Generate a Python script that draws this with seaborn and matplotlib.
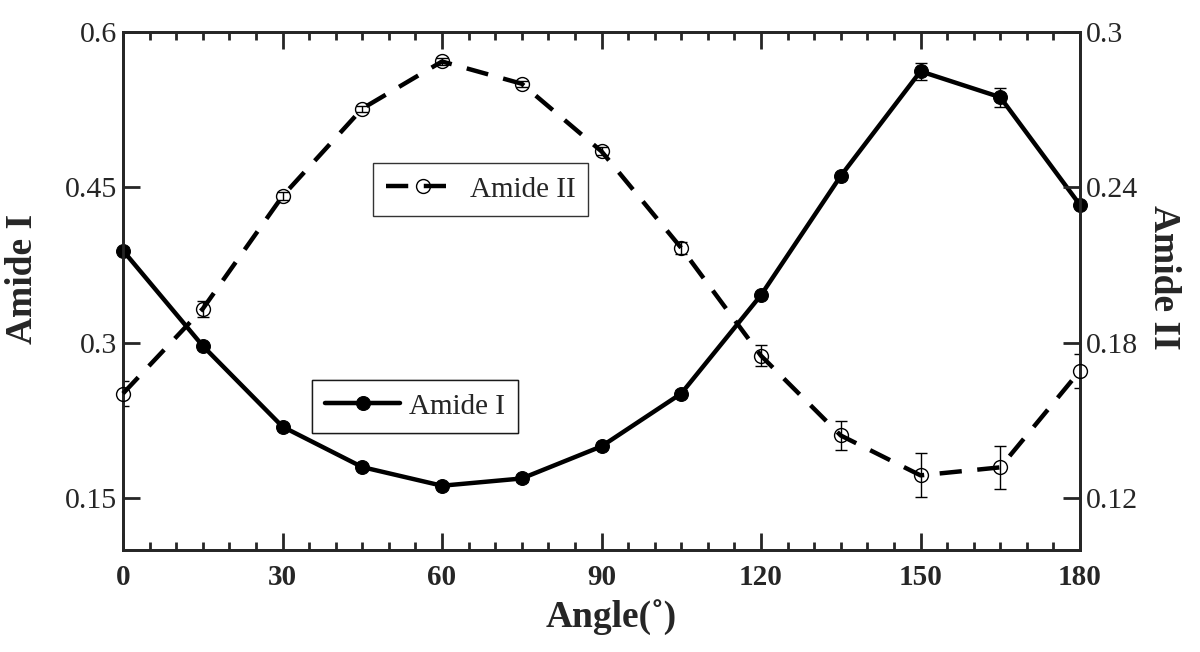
import numpy as np
import pandas as pd
import seaborn as sns
import matplotlib.pyplot as plt
from matplotlib.ticker import MultipleLocator

sns.set_style("ticks")
plt.rcParams['font.family'] = ['Liberation Serif', 'DejaVu Serif']

# data
angle = [0, 15, 30, 45, 60, 75, 90, 105, 120, 135, 150, 165, 180]
amide1 = [0.389, 0.297, 0.219, 0.180, 0.162, 0.169, 0.200, 0.251, 0.346, 0.461, 0.562, 0.537, 0.433]
amide1_err = [0.003, 0.003, 0.003, 0.003, 0.003, 0.003, 0.003, 0.003, 0.003, 0.003, 0.008, 0.009, 0.003]
amide2 = [0.1604, 0.1931, 0.2366, 0.2704, 0.2886, 0.2800, 0.2539, 0.2166, 0.1750, 0.1442, 0.1288, 0.1319, 0.1692]
amide2_err = [0.0048, 0.0030, 0.0015, 0.0012, 0.0012, 0.0012, 0.0015, 0.0022, 0.0040, 0.0055, 0.0085, 0.0083, 0.0065]

df = pd.DataFrame({"angle": angle, "amide1": amide1, "amide2": amide2})

fig = plt.figure(figsize=(12, 6.52), dpi=100)
ax = fig.add_axes([0.1025, 0.1565, 0.7975, 0.7945])
ax2 = ax.twinx()

# Amide I (left axis)
ax.errorbar(angle, amide1, yerr=amide1_err, fmt='none', ecolor='black', elinewidth=1, capsize=4, zorder=2)
sns.lineplot(data=df, x="angle", y="amide1", ax=ax, color='black', linewidth=3.2,
             marker='o', markersize=10, markeredgecolor='black', markerfacecolor='black',
             label="Amide I", zorder=3, clip_on=False)

# Amide II (right axis)
ax2.errorbar(angle, amide2, yerr=amide2_err, fmt='none', ecolor='black', elinewidth=1, capsize=4, zorder=2)
sns.lineplot(data=df, x="angle", y="amide2", ax=ax2, color='black', linewidth=3.2,
             marker='o', markersize=10, markerfacecolor='none', markeredgecolor='black',
             markeredgewidth=1, label="Amide II", zorder=3, clip_on=False)
ax2.lines[-1].set_dashes((5, 3.5))

ax.set_xlim(0, 180)
ax.set_ylim(0.1, 0.6)
ax2.set_ylim(0.1, 0.3)
ax.xaxis.set_major_locator(MultipleLocator(30))
ax.xaxis.set_minor_locator(MultipleLocator(5))
ax.set_yticks([0.15, 0.3, 0.45, 0.6])
ax.set_yticklabels(["0.15", "0.3", "0.45", "0.6"])
ax2.set_yticks([0.12, 0.18, 0.24, 0.3])
ax2.set_yticklabels(["0.12", "0.18", "0.24", "0.3"])

ax.tick_params(axis='x', which='major', direction='in', length=12, width=2, top=True, bottom=True,
               labelsize=21, pad=10)
ax.tick_params(axis='x', which='minor', direction='in', length=6, width=2, top=True, bottom=True)
ax.tick_params(axis='y', which='major', direction='in', length=12, width=2, labelsize=21.5, pad=4)
ax2.tick_params(axis='y', which='major', direction='in', length=12, width=2, labelsize=21.5, pad=4)
for lab in ax.get_xticklabels():
    lab.set_fontweight('bold')

for a in (ax, ax2):
    for s in a.spines.values():
        s.set_linewidth(2)
        s.set_visible(True)

ax.set_xlabel("Angle(˚)", fontsize=27, fontweight='bold', va='center')
ax.xaxis.set_label_coords(0.51, -0.13)
ax.set_ylabel("Amide I", fontsize=27, fontweight='bold', va='center')
ax.yaxis.set_label_coords(-0.105, 0.523)
ax2.set_ylabel("Amide II", fontsize=27, fontweight='bold', rotation=-90, va='center')
ax2.yaxis.set_label_coords(1.087, 0.527)

leg_kw = dict(fontsize=21, frameon=True, fancybox=False, edgecolor='black',
              handlelength=2.57, handletextpad=0.3, borderpad=0.45, borderaxespad=0)
leg1 = ax.legend(loc='upper left', bbox_to_anchor=(0.1975, 0.328), **leg_kw)
leg1.get_frame().set_linewidth(1)
ax.add_artist(leg1)
leg2 = ax2.legend(loc='upper left', bbox_to_anchor=(0.261, 0.747), **leg_kw)
leg2.get_frame().set_linewidth(1)

fig.savefig("out.png", dpi=100)
